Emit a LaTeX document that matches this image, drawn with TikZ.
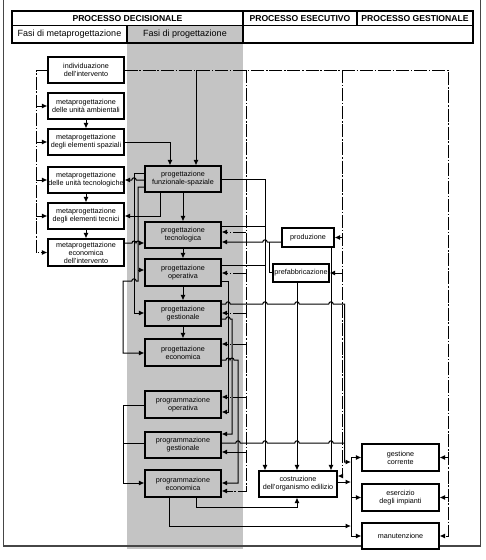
\documentclass[tikz,border=0pt]{standalone}
\usepackage{fontspec}
\setmainfont{Liberation Sans}
\usetikzlibrary{arrows.meta}
\definecolor{band}{RGB}{196,196,196}
\definecolor{frameg}{RGB}{70,70,70}
\newcommand{\hopr}[2]{-- (#1-2.2,#2) arc[start angle=180,end angle=0,radius=2.2pt]}
\newcommand{\hopl}[2]{-- (#1+2.2,#2) arc[start angle=0,end angle=180,radius=2.2pt]}
\newcommand{\hoprs}[2]{-- (#1-2,#2) arc[start angle=180,end angle=0,radius=2pt]}
\begin{document}
\begin{tikzpicture}[x=1pt,y=-1pt,
  box/.style={draw, line width=1.1pt, minimum width=76pt, minimum height=26pt, inner sep=0pt,
    align=center, font=\fontsize{7.2}{8}\selectfont},
  wbox/.style={box, fill=white},
  gbox/.style={box, fill=band},
  ln/.style={line width=1pt},
  ar/.style={ln, -{Latex[length=5.5pt,width=5pt]}},
  dd/.style={ln, dash pattern=on 13pt off 1.8pt on 1.5pt off 1.8pt},
  hdr/.style={font=\fontsize{8.6}{10}\selectfont\bfseries, inner sep=0pt},
  sub/.style={font=\fontsize{9}{10}\selectfont, inner sep=0pt}]
\useasboundingbox (0,0) rectangle (486,560);
% grey band
\fill[band] (127,25.5) rectangle (243,549);
% frame
\draw[frameg, line width=1pt] (3.5,0) -- (3.5,546);
\draw[frameg, line width=1.8pt] (3,546) -- (480.5,546) -- (480.5,0);
% header table
\draw[line width=1.1pt] (12,11) rectangle (473,43);
\draw[line width=1.1pt] (12,25.5) -- (473,25.5) (243,11) -- (243,43) (357,11) -- (357,25.5) (127,25.5) -- (127,43);
\node[hdr] (h1) at (127.5,18.5) {PROCESSO DECISIONALE};
\node[hdr] (h2) at (300,18.5) {PROCESSO ESECUTIVO};
\node[hdr] (h3) at (415,18.5) {PROCESSO GESTIONALE};
\node[sub] (s1) at (69.5,34.5) {Fasi di metaprogettazione};
\node[sub] (s2) at (185,34.5) {Fasi di progettazione};
% meta boxes
\node[wbox] (ind) at (86,70) {individuazione\\dell'intervento};
\node[wbox] (mUA) at (86,106) {metaprogettazione\\delle unità ambientali};
\node[wbox] (mES) at (86,142) {metaprogettazione\\degli elementi spaziali};
\node[wbox] (mUT) at (86,180) {metaprogettazione\\delle unità tecnologiche};
\node[wbox] (mET) at (86,216) {metaprogettazione\\degli elementi tecnici};
\node[wbox, minimum height=27pt] (mEI) at (86,252.5) {metaprogettazione\\economica\\dell'intervento};
% grey boxes
\node[gbox] (pFS) at (183,179) {progettazione\\funzionale-spaziale};
\node[gbox] (pT) at (183,235) {progettazione\\tecnologica};
\node[gbox, minimum height=27pt] (pO) at (183,272.5) {progettazione\\operativa};
\node[gbox, minimum height=25pt] (pG) at (183,313.5) {progettazione\\gestionale};
\node[gbox, minimum height=27pt] (pE) at (183,352.5) {progettazione\\economica};
\node[gbox, minimum height=27pt] (gO) at (183,404.5) {programmazione\\operativa};
\node[gbox] (gG) at (183,445) {programmazione\\gestionale};
\node[gbox, minimum height=27pt] (gE) at (183,483.5) {programmazione\\economica};
% right boxes
\node[wbox, minimum width=52pt, minimum height=19pt] (prod) at (308,237.5) {produzione};
\node[wbox, minimum width=56pt, minimum height=18pt] (pref) at (301,273) {prefabbricazione};
\node[wbox, minimum width=78pt] (cost) at (298,484) {costruzione\\dell'organismo edilizio};
\node[wbox, minimum width=77pt, minimum height=27pt] (gc) at (400.5,457.5) {gestione\\corrente};
\node[wbox, minimum width=77pt, minimum height=27pt] (ei) at (400.5,497.5) {esercizio\\degli impianti};
\node[wbox, minimum width=77pt] (man) at (400.5,536) {manutenzione};
% ---- dash-dot feedback lines
\draw[dd,ar] (ind.west) -- (36,70) -- (36,252.5) -- (mEI.west);
\foreach \n in {mUA,mES,mUT,mET} \draw[dd,ar] (36,0 |- \n.west) -- (\n.west);
\draw[dd,ar] (ind.east) -- (448,70) -- (448,536) -- (man.east);
\draw[dd,ar] (448,0 |- gc.east) -- (gc.east);
\draw[dd,ar] (448,0 |- ei.east) -- (ei.east);
\draw[dd,ar] (246,70) -- (246,491) -- (gE.east |- 0,491);
\draw[dd,ar] (246,232) -- (pT.east |- 0,232);
\draw[dd,ar] (246,273) -- (pO.east |- 0,273);
\draw[dd,ar] (246,313) -- (pG.east |- 0,313);
\draw[dd,ar] (246,344) -- (pE.east |- 0,344);
\draw[dd,ar] (246,397) -- (gO.east |- 0,397);
\draw[ar] (246,452) -- (gG.east |- 0,452);
\draw[dd,ar] (342,70) -- (342,476) -- (cost.east |- 0,476);
\draw[dd,ar] (342,0 |- prod.east) -- (prod.east);
\draw[dd,ar] (342,0 |- pref.east) -- (pref.east);
% ---- metaprogettazione links
\draw[ar] (196,70) -- (196,0 |- pFS.north);
\draw[ar] (mES.east) -- (170,142) -- (170,0 |- pFS.north);
\draw[ar] (mUA.south) -- (mES.north);
\draw[ar] (mUT.south) -- (mET.north);
\draw[ar] (mET.south) -- (mEI.north);
% ---- left of progettazione
\draw[ar] (pFS.west |- 0,180) \hopl{134}{180} -- (mUT.east);
\draw[ar] (pFS.west |- 0,173.5) -- (134,173.5) -- (134,313) -- (pG.west |- 0,313);
\draw[ar] (pFS.west |- 0,187) -- (138,187) -- (138,281) \hopl{134}{281} -- (123,281) -- (123,353) -- (pE.west |- 0,353);
\draw[ar] (138,270) -- (pO.west |- 0,270);
\draw[ar] (160,0 |- pFS.south) -- (160,216) -- (mET.east);
\draw[ar] (mEI.east |- 0,243) \hoprs{134}{243} \hoprs{138}{243} -- (pT.west |- 0,243);
% ---- vertical chain
\draw[ar] (pFS.south) -- (pT.north);
\draw[ar] (pT.south) -- (pO.north);
\draw[ar] (pO.south) -- (pG.north);
\draw[ar] (pG.south) -- (pE.north);
% ---- right of progettazione
\draw[ar] (pFS.east) -- (265,179) -- (265,0 |- cost.north);
\draw[ln] (pT.east |- 0,226) -- (265,226);
\draw[ln] (pO.east |- 0,265) -- (265,265);
\draw[ar] (prod.west |- 0,242) \hopl{265}{242} -- (pT.east |- 0,242);
\draw[ln] (269,242) -- (269,272) -- (pref.west |- 0,272);
\draw[ar] (297,0 |- pref.south) -- (297,0 |- cost.north);
\draw[ar] (331,0 |- prod.south) -- (331,0 |- cost.north);
\draw[ar] (pO.east |- 0,281) -- (228,281) -- (228,412) -- (gO.east |- 0,412);
\draw[ar] (pG.east |- 0,304) \hopr{228}{304} \hopr{265}{304} \hopr{297}{304} \hopr{331}{304} -- (344.5,304) -- (344.5,462) -- (351,462);
\draw[ar] (pG.east |- 0,319) \hopr{228}{319} -- (232,319) -- (232,434) -- (gG.east |- 0,434);
\draw[ar] (pE.east |- 0,360) \hoprs{228}{360} \hoprs{232}{360} -- (238,360) -- (238,483) -- (gE.east |- 0,483);
\draw[ln] (gG.east |- 0,443) \hopr{238}{443} \hopr{265}{443} \hopr{297}{443} \hopr{331}{443} -- (344.5,443);
% ---- left of programmazione
\draw[ar] (gO.west |- 0,405) -- (123,405) -- (123,483) -- (gE.west |- 0,483);
\draw[ln] (gG.west |- 0,443) -- (123,443);
% ---- bottom
\draw[ar] (169,0 |- gE.south) -- (169,526) -- (351,526);
\draw[ar] (196,0 |- gE.south) -- (196,507) -- (297,507) -- (297,0 |- cost.south);
\draw[ar] (cost.east |- 0,482) -- (351,482);
\draw[ln] (351,457.5) -- (351,536);
\draw[ar] (351,0 |- gc.west) -- (gc.west);
\draw[ar] (351,0 |- ei.west) -- (ei.west);
\draw[ar] (351,0 |- man.west) -- (man.west);
\end{tikzpicture}
\end{document}
